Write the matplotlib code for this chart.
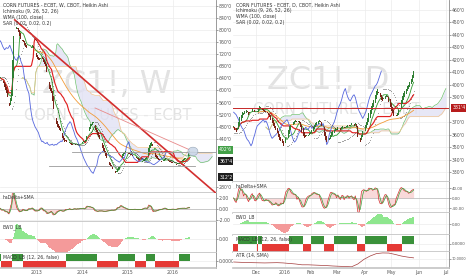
import numpy as np
import pandas as pd
import matplotlib
matplotlib.use("Agg")
import matplotlib.pyplot as plt
from matplotlib.patches import Ellipse
from matplotlib.ticker import FuncFormatter

plt.rcParams['font.family'] = ['DejaVu Sans']

# ---------------- weekly closes (left chart), from 2012-03-02 ----------------
w_close = [
    640, 645, 636, 630, 628, 625, 612, 600, 590, 580,
    560, 540, 548, 575, 600, 700, 780, 800, 815, 820,
    812, 805, 795, 780, 772, 768, 760, 765, 760, 752,
    745, 740, 735, 738, 742, 740, 740, 745, 750, 742,
    735, 725, 718, 712, 705, 702, 700, 708, 712, 715,
    705, 695, 688, 680, 660, 640, 628, 615, 605, 598,
    590, 565, 540, 520, 505, 495, 488, 480, 475, 470,
    465, 460, 450, 442, 435, 430, 432, 428, 426, 424,
    425, 428, 422, 420, 418, 420, 420, 422, 419, 418,
    421, 420, 420, 424, 426, 428, 430, 433, 430, 435,
    448, 460, 468, 475, 480, 488, 490, 496, 495, 488,
    478, 470, 462, 452, 445, 440, 432, 425, 418, 410,
    400, 392, 384, 376, 370, 364, 358, 352, 348, 345,
    340, 335, 330, 328, 325, 332, 340, 346, 350, 365,
    380, 386, 390, 393, 395, 398, 396, 395, 392, 390,
    388, 386, 385, 383, 382, 380, 380, 378, 375, 372,
    370, 368, 366, 365, 362, 365, 368, 372, 375, 378,
    375, 390, 410, 420, 425, 430, 415, 400, 395, 388,
    380, 375, 372, 370, 368, 365, 366, 364, 365, 368,
    372, 375, 372, 368, 366, 365, 364, 362, 361, 360,
    360, 358, 356, 355, 354, 356, 358, 360, 362, 365,
    367, 370, 372, 375, 375, 378, 382, 388, 395, 400,
]
w_start = 2012.17
w_years = [2013, 2014, 2015, 2016]
w_ticks = [280, 440, 480, 520, 560, 600, 640, 680, 720, 760, 800, 840, 880]

# ---------------- daily closes (right chart), from 2015-11-05 ----------------
d_close = [
    366, 364, 362, 365, 370, 374, 376, 378, 377, 379,
    380, 378, 376, 377, 379, 381, 380, 378, 377, 379,
    381, 383, 382, 380, 379, 378, 378, 377, 376, 374,
    372, 369, 367, 365, 364, 361, 358, 356, 355, 353,
    351, 353, 357, 360, 364, 367, 368, 369, 370, 371,
    372, 370, 371, 369, 366, 362, 359, 357, 358, 359,
    360, 361, 362, 364, 366, 368, 369, 370, 371, 372,
    370, 367, 363, 359, 356, 354, 355, 357, 360, 362,
    363, 364, 365, 364, 366, 365, 364, 366, 367, 365,
    366, 367, 368, 367, 368, 369, 368, 367, 369, 366,
    358, 352, 354, 360, 363, 366, 368, 370, 373, 377,
    380, 383, 385, 388, 392, 395, 397, 393, 390, 388,
    387, 389, 391, 392, 390, 386, 382, 379, 377, 375,
    373, 375, 377, 380, 384, 388, 391, 393, 395, 397,
    399, 400, 402, 405, 408, 411,
]
d_dates = pd.bdate_range('2015-11-05', periods=174)
d_months = ['Dec', '2016', 'Feb', 'Mar', 'Apr', 'May', 'Jun', 'Jul']
d_ticks = [330, 340, 350, 360, 370, 390, 400, 410, 420, 430, 440, 450, 460]
# ATR(14) read every 5 bars
atr_idx = list(range(0, 150, 5))
atr_val = [7.5, 7.3, 7.1, 7.0, 6.9, 6.8, 6.9, 7.0, 6.8, 6.4,
           6.0, 5.4, 5.4, 5.2, 5.0, 4.8, 4.5, 4.3, 4.1, 3.9,
           6.0, 9.5, 12.0, 13.8, 14.3, 14.2, 13.2, 12.0, 11.2, 10.6]

# drawings on the weekly chart
trend_x, trend_y = [2012.51, 2016.99], [834, 254]
trend2_x, trend2_y = [2014.28, 2016.37], [542, 403]
hlines_w = [(396, 2013.77, 2016.95), (350, 2013.26, 2016.48)]
w_labels = [("402'6", 403, '#43a047'), ("367'4", 366, '#1e1e1e'), ("312'2", 313, '#1e1e1e')]
d_hline = 381.5
d_labels = [("381'4", 381.5, '#b71c1c')]

UP, DN = '#2f7f33', '#7b2418'
WM = '#e2e2e2'


def heikin(close):
    c = np.asarray(close, float)
    o = np.empty_like(c)
    o[0] = c[0]
    for i in range(1, len(c)):
        o[i] = (o[i - 1] + c[i - 1]) / 2
    return o, c


def midpoint(c, n):
    s = pd.Series(c)
    return ((s.rolling(n, min_periods=1).max() + s.rolling(n, min_periods=1).min()) / 2).values


def sma(c, n):
    return pd.Series(c).rolling(n, min_periods=1).mean().values


def ema(c, n):
    return pd.Series(c).ewm(span=n, adjust=False).mean().values


def wma(c, n):
    out = np.full(len(c), np.nan)
    for i in range(len(c)):
        k = min(i + 1, n)
        w = np.arange(1, k + 1)
        out[i] = np.dot(c[i - k + 1:i + 1], w) / w.sum()
    return out


def psar(c, af0=0.02, step=0.02, amax=0.2):
    sar = np.empty(len(c))
    up, af, ep = True, af0, c[0]
    sar[0] = c[0] - 5
    for i in range(1, len(c)):
        sar[i] = sar[i - 1] + af * (ep - sar[i - 1])
        if up:
            if c[i] < sar[i]:
                up, sar[i], ep, af = False, ep, c[i], af0
            elif c[i] > ep:
                ep, af = c[i], min(af + step, amax)
        else:
            if c[i] > sar[i]:
                up, sar[i], ep, af = True, ep, c[i], af0
            elif c[i] < ep:
                ep, af = c[i], min(af + step, amax)
    return sar


fig = plt.figure(figsize=(4.66, 2.75), dpi=100)
W, H = 466.0, 275.0


def pane(x0, y0, x1, y1):
    return fig.add_axes([x0 / W, 1 - y1 / H, (x1 - x0) / W, (y1 - y0) / H])


def style(ax, xlim, xticks, fs=3.3, pad=0.8):
    ax.set_xlim(*xlim)
    ax.set_xticks(xticks)
    for s in ['left', 'top']:
        ax.spines[s].set_visible(False)
    ax.spines['right'].set_color('#8a8a8a')
    ax.spines['right'].set_linewidth(0.6)
    ax.spines['bottom'].set_color('#c4c4c4')
    ax.spines['bottom'].set_linewidth(1.2)
    ax.yaxis.tick_right()
    ax.tick_params(axis='y', labelsize=fs, colors='#555555', length=1.2, width=0.4, pad=pad)
    ax.tick_params(axis='x', length=0, labelbottom=False, labelsize=3.3, colors='#555555', pad=1.5)
    ax.grid(True, color='#ececec', lw=0.5)
    ax.set_axisbelow(True)


def candles(ax, x, close, width):
    o, c = heikin(close)
    col = [UP if cc >= oo else DN for oo, cc in zip(o, c)]
    h = np.where(np.abs(c - o) < 0.6, 0.6, c - o)
    ax.bar(x, h, bottom=o, width=width, color=col, lw=0, zorder=4)
    return o, c


def ichimoku(ax, x, xext, close, lw=0.6):
    n = len(close)
    conv = midpoint(close, 9)
    base = midpoint(close, 26)
    spa = (conv + base) / 2
    spb = midpoint(close, 52)
    xf = xext[26:26 + n]
    ax.fill_between(xf, spa, spb, color='#dedef3', alpha=0.7, lw=0, zorder=1)
    ax.plot(xf, spa, color='#6cbf6c', lw=lw * 0.8, zorder=2)
    ax.plot(xf, spb, color='#f2c48e', lw=lw * 0.8, zorder=2)
    ax.plot(x, conv, color='#2e9b2e', lw=lw, zorder=3)
    ax.plot(x, base, color='#e02020', lw=lw * 1.4, zorder=3)
    ax.plot(x[:n - 26], close[26:], color='#5566dd', lw=lw, zorder=3)


def price_box(ax, text, y, col):
    ax.text(1.015, y, text, transform=ax.get_yaxis_transform(), fontsize=3.3,
            color='white', va='center', ha='left', zorder=10, clip_on=False,
            bbox=dict(boxstyle='square,pad=0.35', fc=col, ec='none'))


def legend(ax, lines):
    for k, t in enumerate(lines):
        ax.text(0.012, 0.985 - k * 0.031, t, transform=ax.transAxes, fontsize=3.3,
                color='#333333', va='top', ha='left', zorder=10)


def sub_label(ax, t):
    ax.text(0.012, 0.93, t, transform=ax.transAxes, fontsize=3.3, color='#333333',
            va='top', ha='left', zorder=10)


# =============================== LEFT (weekly) ===============================
wc = np.asarray(w_close, float)
nw = len(wc)
wstep = 7 / 365.25
wx = w_start + np.arange(nw) * wstep
wxe = w_start + np.arange(nw + 26) * wstep
wlim = (2012.184, 2016.949)

axL = pane(0, 0, 216, 193)
style(axL, wlim, w_years)
axL.set_ylim(260, 900)
axL.set_yticks(w_ticks)
axL.yaxis.set_major_formatter(FuncFormatter(lambda v, p: f"{v:.0f}'0"))
axL.text(0.495, 0.56, 'ZC1!, W', transform=axL.transAxes, fontsize=23, color=WM,
         ha='center', va='center', zorder=0)
axL.text(0.5, 0.40, 'CORN FUTURES - ECBT', transform=axL.transAxes, fontsize=10.5,
         color=WM, ha='center', va='center', zorder=0)
ichimoku(axL, wx, wxe, wc)
wm = wma(wc, 100)
axL.plot(wx[40:], wm[40:], color='#f29b38', lw=0.6, zorder=2)
ws = psar(wc)
axL.scatter(wx, ws, s=0.15, color='#222222', lw=0, zorder=5)
wo, whc = candles(axL, wx, wc, wstep * 0.75)
axL.plot(trend_x, trend_y, color='#d32f2f', lw=1.2, zorder=6)
axL.plot(trend2_x, trend2_y, color='#e88a8a', lw=0.6, zorder=6)
for yv, x0, x1 in hlines_w:
    axL.plot([x0, x1], [yv, yv], color='#9a9a9a', lw=0.6, zorder=6)
axL.add_patch(Ellipse((2016.44, 398), 0.22, 28, fc='#c9d6e8', ec='#8899aa', lw=0.4,
                      alpha=0.85, zorder=7))
for t, yv, col in w_labels:
    price_box(axL, t, yv, col)
legend(axL, ['CORN FUTURES - ECBT, W, CBOT, Heikin Ashi', 'Ichimoku (9, 26, 52, 26)',
             'WMA (100, close)', 'SAR (0.02, 0.02, 0.2)'])

# haDelta, in units of 40 cents
axL2 = pane(0, 193, 216, 222)
style(axL2, wlim, w_years)
hd = (whc - wo) / 40
hs = sma(hd, 3)
axL2.axhline(0, color='#aaaaaa', lw=0.4)
axL2.fill_between(wx, hd, 0, color='#f8d0d0', alpha=0.8, lw=0)
axL2.plot(wx, hd, color='#d32f2f', lw=0.5)
axL2.plot(wx, hs, color='#3fa03f', lw=0.5)
axL2.set_ylim(-2.3, 2.8)
axL2.set_yticks([-2, 0, 2])
axL2.yaxis.set_major_formatter(FuncFormatter(lambda v, p: f"{v:.2f}"))
sub_label(axL2, 'haDelta+SMA')

# EWO
axL3 = pane(0, 222, 216, 253)
style(axL3, wlim, w_years)
ew = sma(wc, 5) - sma(wc, 35)
m = np.abs(ew).max() * 1.05
axL3.bar(wx, ew, width=wstep, color=np.where(ew > 0, '#8ee68e', '#f49a9a'), lw=0)
axL3.set_ylim(-m * 14 / 17, m)
axL3.set_yticks([0])
axL3.yaxis.set_major_formatter(FuncFormatter(lambda v, p: '0.00'))
sub_label(axL3, 'EWO_LB')

# MACD blocks
axL4 = pane(0, 253, 216, 268)
style(axL4, wlim, w_years)
mc = ema(wc, 12) - ema(wc, 26)
sg = ema(mc, 9)
pos = mc > sg
axL4.bar(wx[pos], 1, width=wstep * 1.02, color='#3a913a', lw=0)
axL4.bar(wx[~pos], -1, width=wstep * 1.02, color='#e53935', lw=0)
axL4.set_ylim(-1, 1.1)
axL4.set_yticks([0])
axL4.yaxis.set_major_formatter(FuncFormatter(lambda v, p: '0.0000'))
axL4.tick_params(axis='x', labelbottom=True)
axL4.set_xticklabels([str(y) for y in w_years])
sub_label(axL4, 'MACD_LB (12, 26, false)')

# =============================== RIGHT (daily) ===============================
dc = np.asarray(d_close, float)
nd = len(dc)
dx = np.arange(nd)
dxe = np.arange(nd + 26)
dlim = (-0.5, 173.5)
month_pos = [int(np.argmax((d_dates.month == mm) & (d_dates.year == yy)))
             for yy, mm in [(2015, 12), (2016, 1), (2016, 2), (2016, 3), (2016, 4),
                            (2016, 5), (2016, 6), (2016, 7)]]

axR = pane(233, 0, 449, 182)
style(axR, dlim, month_pos)
axR.set_ylim(322, 468)
axR.set_yticks(d_ticks)
axR.yaxis.set_major_formatter(FuncFormatter(lambda v, p: f"{v:.0f}'0"))
axR.text(0.44, 0.56, 'ZC1!, D', transform=axR.transAxes, fontsize=23, color=WM,
         ha='center', va='center', zorder=0)
axR.text(0.48, 0.40, 'CORN FUTURES - ECBT', transform=axR.transAxes, fontsize=10.5,
         color=WM, ha='center', va='center', zorder=0)
ichimoku(axR, dx, dxe, dc)
dwm = wma(dc, 100)
axR.plot(dx[20:], dwm[20:], color='#f29b38', lw=0.6, zorder=2)
dsr = psar(dc)
axR.scatter(dx, dsr, s=0.15, color='#222222', lw=0, zorder=5)
candles(axR, dx, dc, 0.75)
axR.axhline(d_hline, color='#c62828', lw=0.7, zorder=6)
for t, yv, col in d_labels:
    price_box(axR, t, yv, col)
legend(axR, ['CORN FUTURES - ECBT, D, CBOT, Heikin Ashi', 'Ichimoku (9, 26, 52, 26)',
             'WMA (100, close)', 'SAR (0.02, 0.02, 0.2)'])

do, dhc = heikin(dc)

# haDelta, in sixths of a cent
axR2 = pane(233, 182, 449, 213)
style(axR2, dlim, month_pos, fs=2.9)
hd2 = (dhc - do) * 6
hs2 = sma(hd2, 3)
axR2.axhline(0, color='#aaaaaa', lw=0.4)
axR2.fill_between(dx, hd2, 0, color='#f8d0d0', alpha=0.8, lw=0)
axR2.plot(dx, hd2, color='#d32f2f', lw=0.5)
axR2.plot(dx, hs2, color='#3fa03f', lw=0.5)
axR2.set_ylim(-60, 64)
axR2.set_yticks([-40, 0, 40])
axR2.yaxis.set_major_formatter(FuncFormatter(lambda v, p: f"{v:.2f}"))
sub_label(axR2, 'haDelta+SMA')

axR3 = pane(233, 213, 449, 235)
style(axR3, dlim, month_pos, fs=2.9)
ew2 = sma(dc, 5) - sma(dc, 35)
m2 = np.abs(ew2).max() * 1.05
axR3.bar(dx, ew2, width=1.0, color=np.where(ew2 > 0, '#8ee68e', '#f49a9a'), lw=0)
axR3.set_ylim(-m2, m2)
axR3.set_yticks([0])
axR3.yaxis.set_major_formatter(FuncFormatter(lambda v, p: '0.00'))
sub_label(axR3, 'EWO_LB')

axR4 = pane(233, 235, 449, 252)
style(axR4, dlim, month_pos, fs=2.9)
mc2 = ema(dc, 12) - ema(dc, 26)
sg2 = ema(mc2, 9)
pos2 = mc2 > sg2
axR4.bar(dx[pos2], 1, width=1.02, color='#3a913a', lw=0)
axR4.bar(dx[~pos2], -1, width=1.02, color='#e53935', lw=0)
axR4.set_ylim(-1, 1.1)
axR4.set_yticks([0])
axR4.yaxis.set_major_formatter(FuncFormatter(lambda v, p: '0.0000'))
sub_label(axR4, 'MACD_LB (12, 26, false)')

axR5 = pane(233, 252, 449, 268)
style(axR5, dlim, month_pos, fs=2.5, pad=0.4)
axR5.plot(atr_idx, atr_val, color='#a33a3a', lw=0.5)
axR5.set_ylim(3, 15)
axR5.set_yticks([10])
axR5.yaxis.set_major_formatter(FuncFormatter(lambda v, p: f"{v:.4f}"))
axR5.tick_params(axis='x', labelbottom=True)
axR5.set_xticklabels(d_months)
sub_label(axR5, 'ATR (14, SMA)')

fig.savefig('out.png', dpi=100)
